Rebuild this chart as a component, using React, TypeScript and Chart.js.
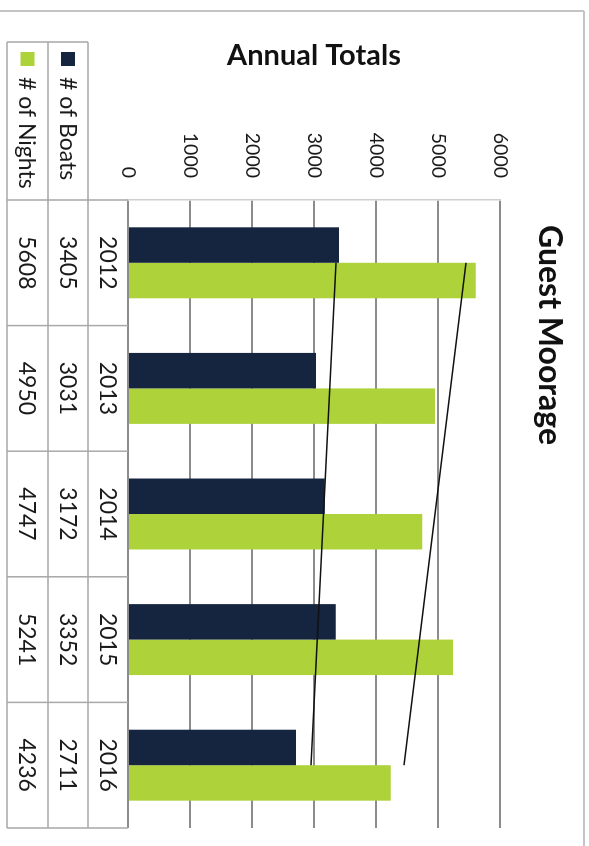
import React, { useEffect, useRef } from 'react';
import { Chart, registerables } from 'chart.js';

Chart.register(...registerables);

// ---- data ----
const categories = ['2012', '2013', '2014', '2015', '2016'];
const seriesNames = ['# of Boats', '# of Nights'];
const boats = [3405, 3031, 3172, 3352, 2711];
const nights = [5608, 4950, 4747, 5241, 4236];
// linear trend lines, endpoints
const boatsTrend = [3355, null, null, null, 2950];
const nightsTrend = [5450, null, null, null, 4452];
const valueMin = 0;
const valueMax = 6000;
const valueStep = 1000;
const chartTitle = 'Guest Moorage';
const axisTitle = 'Annual Totals';

// ---- styles ----
const W = 846;
const H = 589;
const FONT = 'Lato, "Open Sans", "DejaVu Sans", sans-serif';
const NAVY = '#15243f';
const GREEN = '#aed23a';
const GRID = '#8c8c8c';
const TABLE_LINE = '#a8a8a8';

const tablePlugin = {
  id: 'rotatedDataTable',
  afterDraw(chart: any) {
    const ctx = chart.ctx as CanvasRenderingContext2D;
    const area = chart.chartArea;
    const n = categories.length;
    const colW = (area.right - area.left) / n;
    const rowTops = [area.bottom, area.bottom + 40, area.bottom + 80, area.bottom + 121];
    const headerLeft = 42;

    ctx.save();
    // outer frame of chart (scan border)
    ctx.strokeStyle = '#c4c4c4';
    ctx.lineWidth = 2;
    ctx.beginPath();
    ctx.moveTo(11, 5);
    ctx.lineTo(11, H);
    ctx.moveTo(11, 5);
    ctx.lineTo(W, 5);
    ctx.stroke();

    // table lines
    ctx.strokeStyle = TABLE_LINE;
    ctx.lineWidth = 1.5;
    ctx.beginPath();
    for (let r = 1; r < rowTops.length; r++) {
      ctx.moveTo(headerLeft, rowTops[r]);
      ctx.lineTo(area.right, rowTops[r]);
    }
    for (let i = 0; i <= n; i++) {
      const x = area.left + i * colW;
      ctx.moveTo(x, rowTops[0]);
      ctx.lineTo(x, rowTops[3]);
    }
    ctx.moveTo(headerLeft, rowTops[1]);
    ctx.lineTo(headerLeft, rowTops[3]);
    ctx.stroke();

    // table texts
    ctx.fillStyle = '#1a1a1a';
    ctx.font = `23px ${FONT}`;
    ctx.textAlign = 'center';
    ctx.textBaseline = 'middle';
    const xs = chart.scales.x;
    const rowsData = [categories, boats.map(String), nights.map(String)];
    rowsData.forEach((row, r) => {
      const cy = (rowTops[r] + rowTops[r + 1]) / 2 + 1;
      row.forEach((t, i) => {
        ctx.fillText(t, xs.getPixelForValue(i), cy);
      });
    });

    // legend keys in header column
    const colors = [NAVY, GREEN];
    seriesNames.forEach((name, k) => {
      const cy = (rowTops[k + 1] + rowTops[k + 2]) / 2;
      ctx.fillStyle = colors[k];
      ctx.fillRect(52, cy - 7, 14, 14);
      ctx.fillStyle = '#1a1a1a';
      ctx.textAlign = 'left';
      ctx.fillText(name, 77, cy + 1);
    });

    // chart title
    ctx.fillStyle = '#111';
    ctx.font = `bold 32px ${FONT}`;
    ctx.textAlign = 'center';
    ctx.fillText(chartTitle, 335, 40);
    ctx.restore();
  },
};

export default function App() {
  const ref = useRef<HTMLCanvasElement | null>(null);

  useEffect(() => {
    document.body.style.margin = '0';
    document.body.style.overflow = 'hidden';
    const canvas = ref.current;
    if (!canvas) return;
    const chart = new Chart(canvas, {
      type: 'bar',
      data: {
        labels: categories,
        datasets: [
          {
            type: 'line',
            label: 'boats trend',
            data: boatsTrend,
            borderColor: '#111',
            borderWidth: 1.5,
            pointRadius: 0,
            spanGaps: true,
            order: 0,
          } as any,
          {
            type: 'line',
            label: 'nights trend',
            data: nightsTrend,
            borderColor: '#111',
            borderWidth: 1.5,
            pointRadius: 0,
            spanGaps: true,
            order: 0,
          } as any,
          {
            label: seriesNames[0],
            data: boats,
            backgroundColor: NAVY,
            categoryPercentage: 0.565,
            barPercentage: 1.0,
            order: 1,
          },
          {
            label: seriesNames[1],
            data: nights,
            backgroundColor: GREEN,
            categoryPercentage: 0.565,
            barPercentage: 1.0,
            order: 1,
          },
        ],
      },
      options: {
        animation: false,
        responsive: false,
        devicePixelRatio: 1,
        layout: { padding: { top: 89, right: 18, left: 0, bottom: 0 } },
        plugins: {
          legend: { display: false },
          tooltip: { enabled: false },
          title: { display: false },
        },
        scales: {
          x: {
            type: 'category',
            offset: true,
            ticks: { display: false },
            grid: { display: false },
            border: { display: false },
            afterFit: (s: any) => {
              s.height = 128;
            },
          },
          y: {
            min: valueMin,
            max: valueMax,
            ticks: {
              stepSize: valueStep,
              color: '#1a1a1a',
              padding: 22,
              font: { family: FONT, size: 19.5 },
              callback: (v: any) => String(v),
            },
            grid: { color: GRID, lineWidth: 2, drawTicks: false },
            border: { display: true, color: '#cfcfcf', width: 1.5 },
            title: {
              display: true,
              text: axisTitle,
              color: '#111',
              font: { family: FONT, size: 29, weight: 'bold' },
              padding: { top: 38, bottom: 0 },
            },
            afterFit: (s: any) => {
              s.width = 200;
            },
          },
        },
      },
      plugins: [tablePlugin],
    } as any);

    let alive = true;
    if ((document as any).fonts?.load) {
      Promise.all([
        (document as any).fonts.load(`23px Lato`),
        (document as any).fonts.load(`bold 32px Lato`),
      ]).then(() => {
        if (alive) chart.update();
      }).catch(() => {});
    }
    return () => {
      alive = false;
      chart.destroy();
    };
  }, []);

  return (
    <div
      style={{
        position: 'fixed',
        left: 0,
        top: 0,
        width: W,
        height: H,
        transformOrigin: '0 0',
        transform: `translateX(${H}px) rotate(90deg)`,
        background: '#fff',
      }}
    >
      <canvas ref={ref} width={W} height={H} style={{ display: 'block', width: W, height: H }} />
    </div>
  );
}
